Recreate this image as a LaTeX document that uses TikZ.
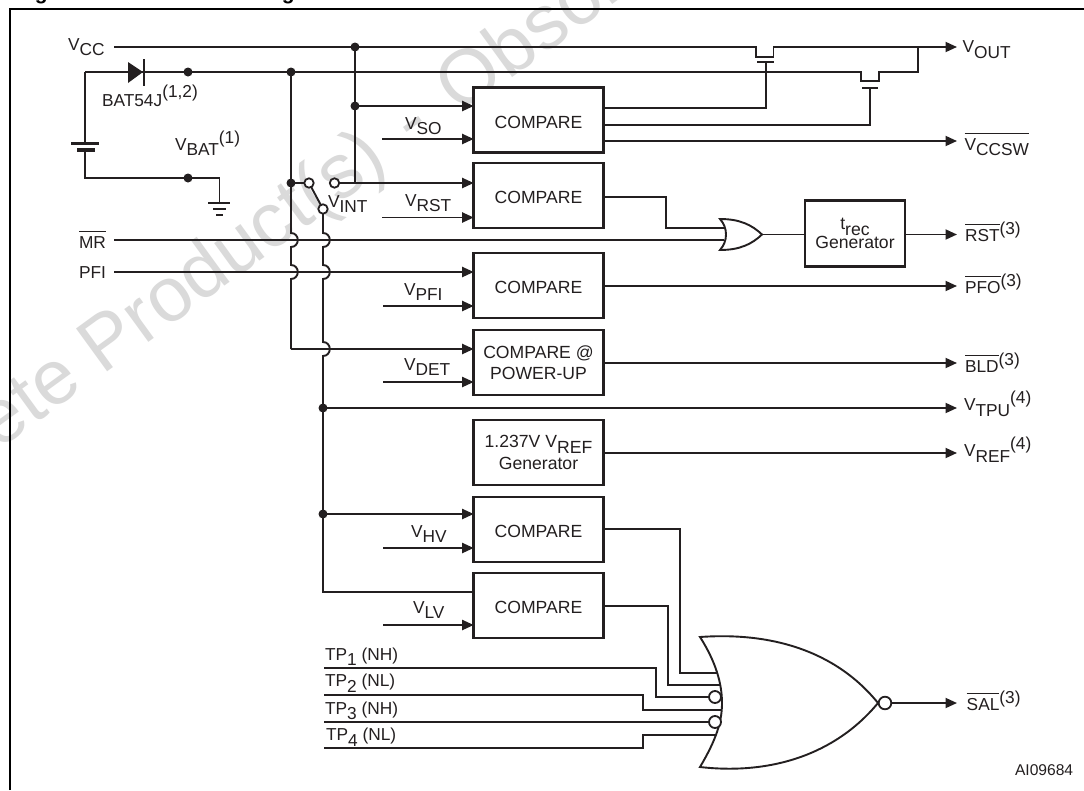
\documentclass[tikz,border=0pt]{standalone}
\usepackage{fontspec}
\setmainfont{Liberation Sans}
\usetikzlibrary{arrows.meta}
\definecolor{ink}{HTML}{231F20}
\definecolor{wm}{HTML}{DADADA}
\newcommand\subs[1]{\raisebox{-5.5pt}{#1}}
\newcommand\sups[1]{\raisebox{7pt}{#1}}
\newcommand\ovl[1]{\leavevmode\vbox{\hrule height 0.9pt\kern 4.3pt\hbox{#1}}}
\newcommand\bmp[2]{-- (#1,#2-7) .. controls (#1+9,#2-7) and (#1+9,#2+7) .. (#1,#2+7)}
\tikzset{
  wire/.style={draw=ink,line width=1.9pt,line join=miter},
  sig/.style={wire,-{Triangle[length=11.5pt,width=10pt]}},
  thick box/.style={draw=ink,line width=2.8pt,fill=white,minimum width=129.6pt,minimum height=65pt,inner sep=0pt,outer sep=0pt,align=center,font=\fontsize{17.6}{21}\selectfont,text=ink},
  onebox/.style={thick box,text height=16.5pt,text depth=0pt},
  lab/.style={anchor=base west,inner sep=0pt,outer sep=0pt,font=\fontsize{17.3}{20}\selectfont,text=ink},
  dot/.style={fill=ink},
  ring/.style={draw=ink,line width=1.8pt,fill=white},
  plate/.style={draw=ink,line width=3.4pt},
  fine/.style={draw=ink,line width=1.7pt},
  gate/.style={draw=ink,line width=1.9pt,fill=white,line join=miter}
}
\begin{document}
\begin{tikzpicture}[x=1pt,y=-1pt]
\useasboundingbox (0,0) rectangle (1084,790);
\fill[white] (0,0) rectangle (1084,790);
% watermark and clipped title
\begin{scope}
\clip (0,0) rectangle (1084,790);
\node[anchor=base west,inner sep=0pt,text=wm,rotate=36,font=\fontsize{77}{80}\selectfont] (wmark) at (-164,569) {Obsolete Product(s)\hspace{9pt} - \hspace{9pt}Obsolete Product(s)};
\node[anchor=base west,inner sep=0pt,text=black,font=\bfseries\fontsize{21}{24}\selectfont] (t1) at (16,-1) {Figure};
\node[anchor=base west,inner sep=0pt,text=black,font=\bfseries\fontsize{21}{24}\selectfont] (t2) at (249,-1) {Diagram};
\end{scope}
% frame
\coordinate (fa) at (10,790);
\coordinate (fb) at (10,9);
\coordinate (fc) at (1084,9);
\draw[draw=black,line width=2pt,line join=miter] (fa) -- (fb) -- (fc);

% boxes
\node[onebox] (c1) at (538.5,120) {COMPARE};
\node[onebox] (c2) at (538.5,195.5) {COMPARE};
\node[onebox] (c3) at (538.5,285.5) {COMPARE};
\node[thick box] (c4) at (538.5,362.5) {COMPARE @\\POWER-UP};
\node[thick box] (c5) at (538.5,452.5) {1.237V V\subs{REF}\\[1pt]Generator};
\node[onebox] (c6) at (538.5,529.5) {COMPARE};
\node[onebox] (c7) at (538.5,605.5) {COMPARE};
\node[thick box,minimum width=100pt,minimum height=66pt] (tr) at (855,233.5) {t\subs{rec}\\[-2pt]Generator};

% labels
\node[lab] (lvcc) at (68,50) {V\subs{CC}};
\node[lab] (lbat54) at (102,106.7) {BAT54J\raisebox{9.5pt}{(1,2)}};
\node[lab] (lvbat) at (175,150) {V\subs{BAT}\sups{(1)}};
\node[lab] (lvint) at (328,207) {V\subs{INT}};
\node[lab] (lvso) at (405,129) {V\subs{SO}};
\node[lab] (lvrst) at (405,206) {V\subs{RST}};
\node[lab] (lmr) at (79,248) {\ovl{MR}};
\node[lab] (lpfi) at (79,278) {PFI};
\node[lab] (lvpfi) at (404,295) {V\subs{PFI}};
\node[lab] (lvdet) at (404,370) {V\subs{DET}};
\node[lab] (lvhv) at (411,537) {V\subs{HV}};
\node[lab] (lvlv) at (413,613) {V\subs{LV}};
\node[lab] (lvout) at (962.6,52.7) {V\subs{OUT}};
\node[lab] (lvccsw) at (964.6,150) {\ovl{V\subs{CCSW}}};
\node[lab] (lrst) at (965,241.7) {\ovl{RST}\sups{(3)}};
\node[lab] (lpfo) at (965,293.5) {\ovl{PFO}\sups{(3)}};
\node[lab] (lbld) at (965,372) {\ovl{BLD}\sups{(3)}};
\node[lab] (lvtpu) at (964,410.7) {V\subs{TPU}\sups{(4)}};
\node[lab] (lvref) at (964,456.7) {V\subs{REF}\sups{(4)}};
\node[lab] (lsal) at (966.7,710) {\ovl{SAL}\sups{(3)}};
\node[lab] (ltp1) at (325,660) {TP\subs{1} (NH)};
\node[lab] (ltp2) at (325,686.7) {TP\subs{2} (NL)};
\node[lab] (ltp3) at (325,714) {TP\subs{3} (NH)};
\node[lab] (ltp4) at (326,740.7) {TP\subs{4} (NL)};
\node[lab,font=\fontsize{15.6}{18}\selectfont] (lai) at (1015,775) {AI09684};

% key points
\coordinate (vccin) at (114,47);
\coordinate (vccj) at (355,47);
\coordinate (q1a) at (756,47);
\coordinate (q1b) at (756,57);
\coordinate (q1c) at (773.5,57);
\coordinate (q1d) at (773.5,47);
\coordinate (vout) at (957,47);
\coordinate (q1g) at (766,62);
\coordinate (q2a) at (861,72);
\coordinate (q2b) at (861,81);
\coordinate (q2c) at (879,81);
\coordinate (q2d) at (879,72);
\coordinate (q2e) at (918,72);
\coordinate (q2f) at (918,47);
\coordinate (q2g) at (870,88);
\coordinate (batc) at (85,72);
\coordinate (batp) at (85,143.7);
\coordinate (batn) at (85,150);
\coordinate (batl) at (85,178);
\coordinate (gnd) at (219.5,178);
\coordinate (gndt) at (219.5,203);
\coordinate (j72a) at (188,72);
\coordinate (j72b) at (291,72);
\coordinate (j106) at (355,106);
\coordinate (jsw) at (291,183);
\coordinate (sw1) at (309,183);
\coordinate (sw2) at (323,209);
\coordinate (sw3) at (334.5,183);
\coordinate (j183) at (355,183);
\coordinate (j349) at (291,349);
\coordinate (j407) at (323,408);
\coordinate (tpu) at (957,408);
\coordinate (j514) at (323,514);
\coordinate (j592) at (323,592);
\coordinate (orin1) at (724,228);
\coordinate (orin2) at (724,240);
\coordinate (orout) at (762,234.5);
\coordinate (nori1) at (722,673);
\coordinate (nori2) at (722,685);
\coordinate (nori3) at (715,697);
\coordinate (nori4) at (722,710);
\coordinate (nori5) at (715,722);
\coordinate (nori6) at (722,735);
\coordinate (norb) at (885,703);

% supply rails
\draw[wire] (vccin) -- (vccj) -- (q1a) -- (q1b) -- (q1c) -- (q1d) -- (q2f);
\draw[sig] (q2f) -- (vout);
\draw[wire] (batc) -- (j72a) -- (j72b) -- (q2a) -- (q2b) -- (q2c) -- (q2d) -- (q2e) -- (q2f);
\draw[wire] (batp) -- (batc);
\draw[wire] (batn) -- (batl) -- (j72a |- batl) -- (gnd) -- (gndt);
\draw[wire] (vccj) -- (j106) -- (j183);
\draw[sig] (j106) -- (c1.west |- j106);
\draw[sig] (sw3) -- (c2.west |- sw3);
\draw[wire] (j72b) \bmp{291}{240} \bmp{291}{272} -- (j349);
\draw[sig] (j349) -- (c4.west |- j349);
\draw[wire] (jsw) -- (sw1) -- (sw2);
\draw[wire] (sw2) \bmp{323}{240} \bmp{323}{272} \bmp{323}{349} -- (j407) -- (j514) -- (j592) -- (c7.west |- j592);
\draw[sig] (j407) -- (tpu);
\draw[sig] (j514) -- (c6.west |- j514);

% reference inputs
\draw[sig] (382,139) -- (c1.west |- 0,139);
\draw[sig] (382,217.5) -- (c2.west |- 0,217.5);
\draw[sig] (383,306) -- (c3.west |- 0,306);
\draw[sig] (383,382) -- (c4.west |- 0,382);
\draw[sig] (383,548) -- (c6.west |- 0,548);
\draw[sig] (383,625) -- (c7.west |- 0,625);

% MR / PFI
\draw[wire] (114,240) -- (orin2);
\draw[sig] (114,272) -- (c3.west |- 0,272);

% transistors gates
\draw[wire] (c1.east |- 0,108) -- (q1g |- 0,108) -- (q1g);
\draw[wire] (c1.east |- 0,125) -- (q2g |- 0,125) -- (q2g);
\draw[plate,line width=2.6pt] (757,62) -- (774,62);
\draw[plate,line width=2.6pt] (862,88) -- (878,88);
\draw[sig] (c1.east |- 0,141) -- (957,141);

% outputs
\draw[wire] (c2.east |- 0,197) -- (666,197) -- (666,228) -- (orin1);
\draw[wire] (orout) -- (tr.west |- orout);
\draw[sig] (tr.east |- orout) -- (957,234.5);
\draw[sig] (c3.east |- 0,286) -- (957,286);
\draw[sig] (c4.east |- 0,363) -- (957,363);
\draw[sig] (c5.east |- 0,453) -- (957,453);
\draw[wire] (c6.east |- 0,529) -- (680,529) -- (680,673) -- (nori1);
\draw[wire] (c7.east |- 0,606) -- (668,606) -- (668,685) -- (nori2);

% test points
\draw[wire] (324,668) -- (656,668) -- (656,697) -- (nori3);
\draw[wire] (324,695) -- (643,695) -- (643,710) -- (nori4);
\draw[wire] (324,722) -- (nori5);
\draw[wire] (324,748) -- (643,748) -- (643,735) -- (nori6);

% battery and ground
\draw[plate] (71,143.7) -- (99,143.7);
\draw[plate] (77,150) -- (95,150);
\draw[fine] (208,203) -- (230,203);
\draw[fine] (213,209) -- (226,209);
\draw[fine] (216,215) -- (223,215);

% diode
\fill[ink] (128,62) -- (143,72) -- (128,83) -- cycle;
\draw[fine] (144.3,59) -- (144.3,86);

% gates
\draw[gate] (720,219) .. controls (740,219) and (752,225) .. (orout) .. controls (752,244) and (740,250) .. (720,250) .. controls (728,241) and (728,228) .. cycle;
\draw[gate] (700,637) .. controls (770,632) and (835,650) .. (878,703) .. controls (835,755) and (770,775) .. (700,767) .. controls (716,740) and (722,722) .. (722,703) .. controls (722,684) and (716,662) .. cycle;
\draw[sig] (norb) -- (957,703);
\draw[ring] (norb) circle[radius=6.3pt];
\draw[ring] (nori3) circle[radius=6pt];
\draw[ring] (nori5) circle[radius=6pt];

% switch terminals
\draw[ring] (sw1) circle[radius=4.7pt];
\draw[ring] (sw2) circle[radius=4.7pt];
\draw[ring] (sw3) circle[radius=4.7pt];

% junctions
\foreach \p in {vccj,j72a,j72b,j106,jsw,j407,j514} \fill[dot] (\p) circle[radius=4.5pt];
\fill[dot] (j72a |- batl) circle[radius=4.5pt];
\end{tikzpicture}
\end{document}
